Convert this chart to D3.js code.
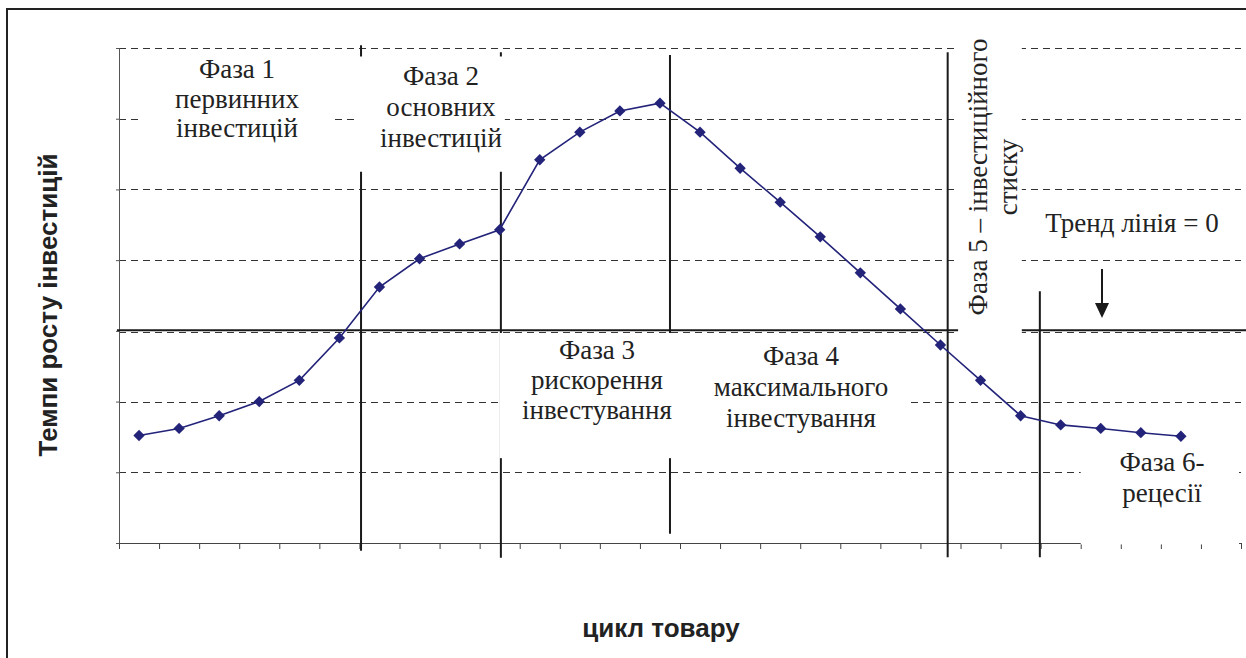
<!DOCTYPE html>
<html lang="uk">
<head>
<meta charset="utf-8">
<script src="https://d3js.org/d3.v7.min.js"></script>
<style>
  html, body { margin: 0; padding: 0; background: #fff; }
  svg { display: block; }
</style>
</head>
<body>
<svg id="chart"></svg>
<script>
// values (category index -> investment growth rate)
const values = [-1.48, -1.38, -1.20, -1.00, -0.70, -0.10, 0.62, 1.02, 1.23, 1.43,
                2.42, 2.81, 3.11, 3.22, 2.81, 2.30, 1.82, 1.33, 0.82, 0.31,
                -0.20, -0.70, -1.20, -1.33, -1.38, -1.44, -1.49];
const nCategories = 28;
const gridValues = [-3, -2, -1, 0, 1, 2, 3, 4];
const yLabel = "Темпи росту інвестицій";
const xLabel = "цикл товару";
const phase1 = ["Фаза 1", "первинних", "інвестицій"];
const phase2 = ["Фаза 2", "основних", "інвестицій"];
const phase3 = ["Фаза 3", "рискорення", "інвестування"];
const phase4 = ["Фаза 4", "максимального", "інвестування"];
const phase5 = ["Фаза 5 – інвестиційного", "стиску"];
const phase6 = ["Фаза 6-", "рецесії"];
const trendLabel = "Тренд лінія = 0";
// phase borders in category units
const phaseBorders = [6.04, 9.53, 13.75, 20.68, 22.98];

const W = 1246, H = 658;
const svg = d3.select("#chart").attr("width", W).attr("height", H);

const x = d3.scaleLinear().domain([0, nCategories]).range([119, 1241]);
const y = d3.scaleLinear().domain([-3, 4]).range([543, 48]);
const navy = "#23237a";
const serif = "'Liberation Serif', 'Times New Roman', serif";
const sans = "'Liberation Sans', Arial, sans-serif";
const fs = 27;

// outer frame (only left & top are inside the picture)
svg.append("rect").attr("x", 7).attr("y", 9).attr("width", 1400).attr("height", 800)
   .attr("fill", "none").attr("stroke", "#222").attr("stroke-width", 2);

// gridlines
svg.append("g").selectAll("line")
   .data(gridValues.filter(v => v > -3))
   .join("line")
   .attr("x1", x(0)).attr("x2", x(nCategories))
   .attr("y1", d => Math.round(y(d)) + 0.5 + (d === 0 ? 1 : 0))
   .attr("y2", d => Math.round(y(d)) + 0.5 + (d === 0 ? 1 : 0))
   .attr("stroke", "#333").attr("stroke-width", 1.1)
   .attr("stroke-dasharray", "7,5");

// axes
const yAxis = svg.append("g").attr("transform", `translate(${x(0)},0)`)
   .call(d3.axisLeft(y).tickValues(gridValues).tickSize(3).tickFormat(""));
yAxis.select(".domain").attr("stroke", "#555");
yAxis.selectAll(".tick line").attr("stroke", "#555");

const xAxis = svg.append("g").attr("transform", `translate(0,${y(-3)})`)
   .call(d3.axisBottom(x).tickValues(d3.range(nCategories + 1)).tickSize(6).tickFormat("").tickSizeOuter(0));
xAxis.select(".domain").attr("stroke", "#444");
xAxis.selectAll(".tick line").attr("stroke", "#444");

// trend line = 0
svg.append("line").attr("x1", x(0) - 2).attr("x2", W)
   .attr("y1", y(0) - 0.5).attr("y2", y(0) - 0.5)
   .attr("stroke", "#1a1a1a").attr("stroke-width", 2);

// phase borders
const borderSpans = [[4.04, -3.11], [3.94, -3.21], [3.90, -2.87], [3.94, -3.20], [0.56, -3.20]];
svg.append("g").selectAll("line")
   .data(phaseBorders)
   .join("line")
   .attr("x1", d => x(d)).attr("x2", d => x(d))
   .attr("y1", (d, i) => y(borderSpans[i][0]))
   .attr("y2", (d, i) => y(borderSpans[i][1]))
   .attr("stroke", "#1a1a1a").attr("stroke-width", 2);

// white label boxes (cover the grid like text boxes in the original)
const boxes = [
  [0.55, 5.33, 3.92, 2.2],   // phase 1
  [5.98, 9.63, 3.88, 2.25],  // phase 2
  [9.5, 19.69, -0.03, -1.8], // phase 3 + 4
  [20.94, 22.53, 4.2, -0.05],// phase 5
  [24.0, 27.95, -1.65, -3.02]// phase 6
];
svg.append("g").selectAll("rect")
   .data(boxes)
   .join("rect")
   .attr("x", d => x(d[0])).attr("width", d => x(d[1]) - x(d[0]))
   .attr("y", d => y(d[2])).attr("height", d => y(d[3]) - y(d[2]))
   .attr("fill", "#fff");

// phase texts
function block(lines, cx, baseline, step) {
  const t = svg.append("text").attr("text-anchor", "middle")
     .attr("font-family", serif).attr("font-size", fs).attr("fill", "#222");
  lines.forEach((s, i) => t.append("tspan").attr("x", cx).attr("y", baseline + i * step).text(s));
}
block(phase1, 237, 78, 29.5);
block(phase2, 441, 85, 31);
block(phase3, 597, 359, 30);
block(phase4, 801, 365, 31);
block(phase6, 1162, 471, 31);

const p5 = svg.append("text").attr("text-anchor", "middle")
   .attr("font-family", serif).attr("font-size", fs).attr("fill", "#222")
   .attr("transform", "translate(987,177) rotate(-90)");
p5.append("tspan").attr("x", 0).attr("y", 0).text(phase5[0]);
p5.append("tspan").attr("x", 0).attr("y", 30).text(phase5[1]);

svg.append("text").attr("x", 1132).attr("y", 232).attr("text-anchor", "middle")
   .attr("font-family", serif).attr("font-size", fs).attr("fill", "#222").text(trendLabel);

// arrow pointing at the trend line
svg.append("line").attr("x1", 1102).attr("x2", 1102).attr("y1", 269).attr("y2", 304)
   .attr("stroke", "#1a1a1a").attr("stroke-width", 2);
svg.append("path").attr("d", "M1095,303 L1109,303 L1102,318 Z").attr("fill", "#1a1a1a");

// series
const cx = i => x(i + 0.5);
svg.append("path")
   .datum(values)
   .attr("fill", "none").attr("stroke", navy).attr("stroke-width", 1.6)
   .attr("d", d3.line().x((d, i) => cx(i)).y(d => y(d)));
svg.append("g").selectAll("path")
   .data(values)
   .join("path")
   .attr("d", d3.symbol().type(d3.symbolDiamond2).size(82))
   .attr("transform", (d, i) => `translate(${cx(i)},${y(d)})`)
   .attr("fill", navy);

// axis titles
svg.append("text").attr("transform", "translate(57,305) rotate(-90)")
   .attr("text-anchor", "middle").attr("font-family", sans).attr("font-weight", "bold")
   .attr("font-size", 26).attr("fill", "#222").text(yLabel);
svg.append("text").attr("x", 661).attr("y", 637).attr("text-anchor", "middle")
   .attr("font-family", sans).attr("font-weight", "bold")
   .attr("font-size", 26).attr("fill", "#222").text(xLabel);
</script>
</body>
</html>
